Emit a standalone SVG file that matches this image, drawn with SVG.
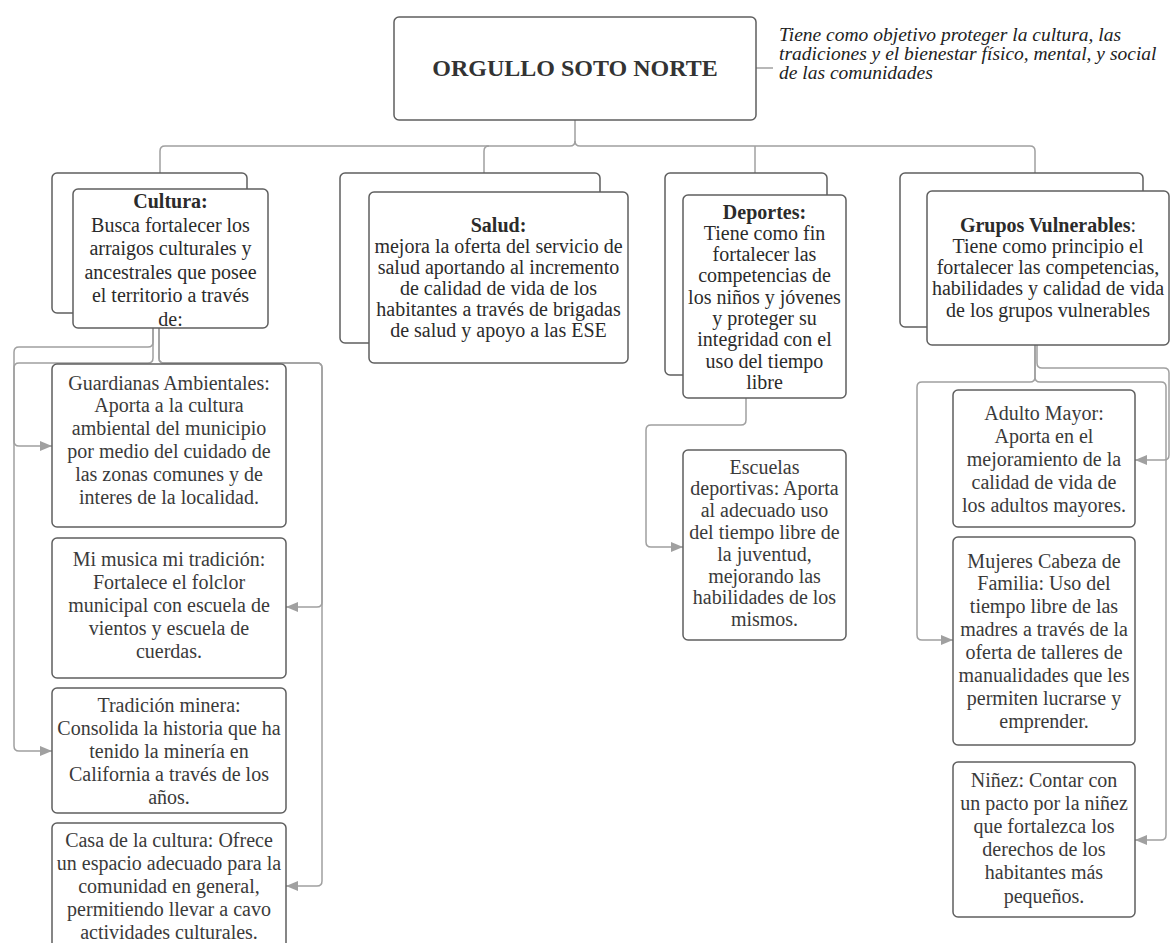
<svg xmlns="http://www.w3.org/2000/svg" width="1171" height="943" viewBox="0 0 1171 943">
<style>
.box{fill:#fff;stroke:#5f5f5f;stroke-width:1.5}
.conn{fill:none;stroke:#a0a0a0;stroke-width:1.5}
.t{font-family:'Liberation Serif','Times New Roman',serif;font-size:20px;fill:#2b2b2b;text-anchor:middle}
.c{fill:#3a3a3a}
.b{font-weight:bold}
.title{font-family:'Liberation Serif','Times New Roman',serif;font-size:24px;font-weight:bold;fill:#333;text-anchor:middle}
.it{font-family:'Liberation Serif','Times New Roman',serif;font-size:19.5px;font-style:italic;fill:#222}
</style>
<defs>
<marker id="arr" viewBox="0 0 12 10" refX="12" refY="5" markerWidth="12" markerHeight="10" markerUnits="userSpaceOnUse" orient="auto">
<path d="M0,0 L12,5 L0,10 Z" fill="#a0a0a0"/>
</marker>
</defs>
<rect width="1171" height="943" fill="#fff"/>

<g id="connectors">
<path class="conn" d="M575,120 V141 q0,5 -5,5 H165 q-5,0 -5,5 V173"/>
<path class="conn" d="M575,141 q0,5 5,5 H1030 q5,0 5,5 V173"/>
<path class="conn" d="M489,146 q-5,0 -5,5 V173"/>
<path class="conn" d="M755,146 V173"/>
<path class="conn" d="M756,68 H773"/>
<path class="conn" d="M153,328 V342 q0,5 -5,5 H19 q-5,0 -5,5 V441 q0,5 5,5 H52" marker-end="url(#arr)"/>
<path class="conn" d="M153,328 V358 q0,5 -5,5 H19 q-5,0 -5,5 V746 q0,5 5,5 H52" marker-end="url(#arr)"/>
<path class="conn" d="M159,328 V358 q0,5 5,5 H317 q5,0 5,5 V602 q0,5 -5,5 H286" marker-end="url(#arr)"/>
<path class="conn" d="M159,328 V358 q0,5 5,5 H317 q5,0 5,5 V881 q0,5 -5,5 H286" marker-end="url(#arr)"/>
<path class="conn" d="M746,398 V420 q0,5 -5,5 H651 q-5,0 -5,5 V542 q0,5 5,5 H683" marker-end="url(#arr)"/>
<path class="conn" d="M1037,345 V363 q0,5 5,5 H1164 q5,0 5,5 V455 q0,5 -5,5 H1135" marker-end="url(#arr)"/>
<path class="conn" d="M1035,345 V377 q0,5 5,5 H1161 q5,0 5,5 V835 q0,5 -5,5 H1135" marker-end="url(#arr)"/>
<path class="conn" d="M1035,345 V377 q0,5 -5,5 H922 q-5,0 -5,5 V635 q0,5 5,5 H953" marker-end="url(#arr)"/>
</g>

<g id="root">
<rect class="box" x="394" y="17" width="362" height="103" rx="5"/>
<text class="title" x="575" y="76">ORGULLO SOTO NORTE</text>
</g>

<g id="root-note">
<text class="it"><tspan x="779" y="41">Tiene como objetivo proteger la cultura, las</tspan><tspan x="779" y="60">tradiciones y el bienestar físico, mental, y social</tspan><tspan x="779" y="79">de las comunidades</tspan></text>
</g>

<g id="cultura">
<rect class="box" x="52" y="173" width="195" height="140" rx="5"/>
<rect class="box" x="73" y="189" width="195" height="139" rx="5"/>
<text class="t"><tspan class="b" x="170.5" y="208">Cultura:</tspan><tspan x="170.5" y="231.5">Busca fortalecer los</tspan><tspan x="170.5" y="255">arraigos culturales y</tspan><tspan x="170.5" y="278.5">ancestrales que posee</tspan><tspan x="170.5" y="302">el territorio a través</tspan><tspan x="170.5" y="325.5">de:</tspan></text>
</g>

<g id="salud">
<rect class="box" x="340" y="173" width="260" height="170" rx="5"/>
<rect class="box" x="369" y="192" width="259" height="171" rx="5"/>
<text class="t"><tspan class="b" x="498.5" y="231.5">Salud:</tspan><tspan x="498.5" y="252.5">mejora la oferta del servicio de</tspan><tspan x="498.5" y="273.5">salud aportando al incremento</tspan><tspan x="498.5" y="294.5">de calidad de vida de los</tspan><tspan x="498.5" y="315.5">habitantes a través de brigadas</tspan><tspan x="498.5" y="336.5">de salud y apoyo a las ESE</tspan></text>
</g>

<g id="deportes">
<rect class="box" x="665" y="173" width="162" height="202" rx="5"/>
<rect class="box" x="683" y="195" width="163" height="203" rx="5"/>
<text class="t"><tspan class="b" x="764.5" y="218.5">Deportes:</tspan><tspan x="764.5" y="239.8">Tiene como fin</tspan><tspan x="764.5" y="261.1">fortalecer las</tspan><tspan x="764.5" y="282.4">competencias de</tspan><tspan x="764.5" y="303.7">los niños y jóvenes</tspan><tspan x="764.5" y="325">y proteger su</tspan><tspan x="764.5" y="346.3">integridad con el</tspan><tspan x="764.5" y="367.6">uso del tiempo</tspan><tspan x="764.5" y="388.9">libre</tspan></text>
</g>

<g id="grupos">
<rect class="box" x="900" y="173" width="243" height="154" rx="5"/>
<rect class="box" x="927" y="191" width="242" height="154" rx="5"/>
<text class="t"><tspan x="1048" y="231.5"><tspan class="b">Grupos Vulnerables</tspan>:</tspan><tspan x="1048" y="252.8">Tiene como principio el</tspan><tspan x="1048" y="274.1">fortalecer las competencias,</tspan><tspan x="1048" y="295.4">habilidades y calidad de vida</tspan><tspan x="1048" y="316.7">de los grupos vulnerables</tspan></text>
</g>

<g id="guardianas">
<rect class="box" x="52" y="364" width="234" height="163" rx="5"/>
<text class="t c"><tspan x="169" y="389.5">Guardianas Ambientales:</tspan><tspan x="169" y="412.3">Aporta a la cultura</tspan><tspan x="169" y="435.1">ambiental del municipio</tspan><tspan x="169" y="457.9">por medio del cuidado de</tspan><tspan x="169" y="480.7">las zonas comunes y de</tspan><tspan x="169" y="503.5">interes de la localidad.</tspan></text>
</g>

<g id="musica">
<rect class="box" x="52" y="538" width="234" height="140" rx="5"/>
<text class="t c"><tspan x="169" y="566">Mi musica mi tradición:</tspan><tspan x="169" y="589">Fortalece el folclor</tspan><tspan x="169" y="612">municipal con escuela de</tspan><tspan x="169" y="635">vientos y escuela de</tspan><tspan x="169" y="658">cuerdas.</tspan></text>
</g>

<g id="minera">
<rect class="box" x="52" y="688" width="234" height="125" rx="5"/>
<text class="t c"><tspan x="169" y="711.5">Tradición minera:</tspan><tspan x="169" y="734.5">Consolida la historia que ha</tspan><tspan x="169" y="757.5">tenido la minería en</tspan><tspan x="169" y="780.5">California a través de los</tspan><tspan x="169" y="803.5">años.</tspan></text>
</g>

<g id="casa">
<rect class="box" x="52" y="823" width="234" height="140" rx="5"/>
<text class="t c"><tspan x="169" y="846.5">Casa de la cultura: Ofrece</tspan><tspan x="169" y="869.7">un espacio adecuado para la</tspan><tspan x="169" y="892.9">comunidad en general,</tspan><tspan x="169" y="916.1">permitiendo llevar a cavo</tspan><tspan x="169" y="939.3">actividades culturales.</tspan></text>
</g>

<g id="escuelas">
<rect class="box" x="683" y="450" width="163" height="190" rx="5"/>
<text class="t c"><tspan x="764.5" y="473.5">Escuelas</tspan><tspan x="764.5" y="495.3">deportivas: Aporta</tspan><tspan x="764.5" y="517.1">al adecuado uso</tspan><tspan x="764.5" y="538.9">del tiempo libre de</tspan><tspan x="764.5" y="560.7">la juventud,</tspan><tspan x="764.5" y="582.5">mejorando las</tspan><tspan x="764.5" y="604.3">habilidades de los</tspan><tspan x="764.5" y="626.1">mismos.</tspan></text>
</g>

<g id="adulto">
<rect class="box" x="953" y="390" width="182" height="137" rx="5"/>
<text class="t c"><tspan x="1044" y="419.5">Adulto Mayor:</tspan><tspan x="1044" y="442.5">Aporta en el</tspan><tspan x="1044" y="465.5">mejoramiento de la</tspan><tspan x="1044" y="488.5">calidad de vida de</tspan><tspan x="1044" y="511.5">los adultos mayores.</tspan></text>
</g>

<g id="mujeres">
<rect class="box" x="953" y="537" width="182" height="208" rx="5"/>
<text class="t c"><tspan x="1044" y="567.5">Mujeres Cabeza de</tspan><tspan x="1044" y="590.4">Familia: Uso del</tspan><tspan x="1044" y="613.3">tiempo libre de las</tspan><tspan x="1044" y="636.2">madres a través de la</tspan><tspan x="1044" y="659.1">oferta de talleres de</tspan><tspan x="1044" y="682">manualidades que les</tspan><tspan x="1044" y="704.9">permiten lucrarse y</tspan><tspan x="1044" y="727.8">emprender.</tspan></text>
</g>

<g id="ninez">
<rect class="box" x="953" y="762" width="182" height="155" rx="5"/>
<text class="t c"><tspan x="1044" y="786.5">Niñez: Contar con</tspan><tspan x="1044" y="809.7">un pacto por la niñez</tspan><tspan x="1044" y="832.9">que fortalezca los</tspan><tspan x="1044" y="856.1">derechos de los</tspan><tspan x="1044" y="879.3">habitantes más</tspan><tspan x="1044" y="902.5">pequeños.</tspan></text>
</g>
</svg>
